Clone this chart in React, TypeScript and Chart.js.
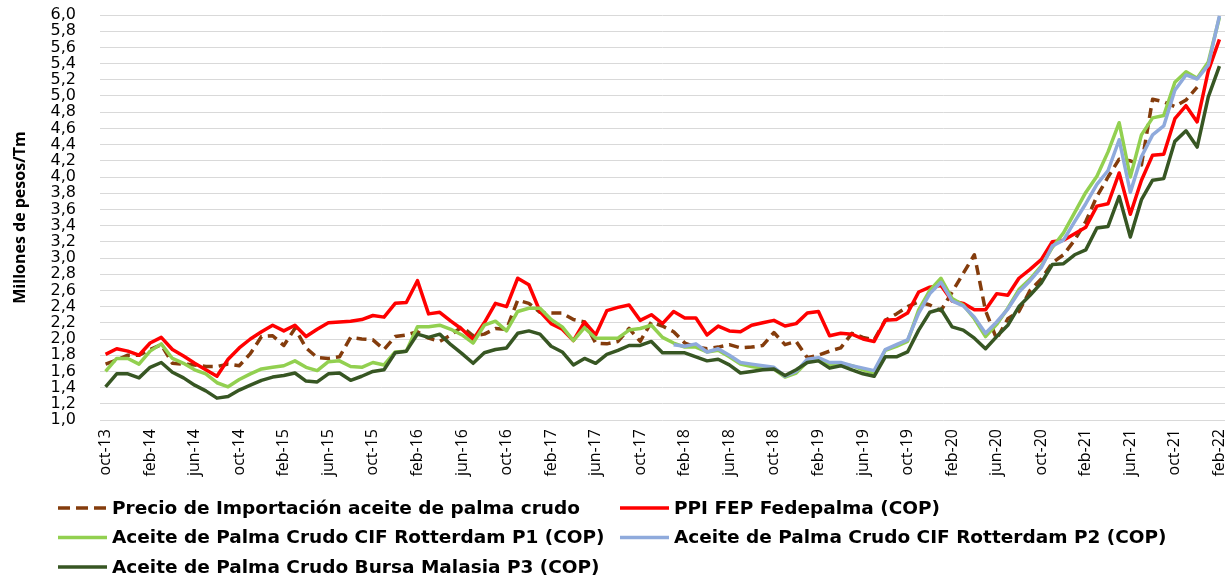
import { useEffect, useRef } from 'react';
import { Chart, registerables } from 'chart.js';

Chart.register(...registerables);

const categories = [
  'oct-13', 'nov-13', 'dic-13',
  'ene-14', 'feb-14', 'mar-14', 'abr-14', 'may-14', 'jun-14', 'jul-14', 'ago-14', 'sep-14', 'oct-14', 'nov-14', 'dic-14',
  'ene-15', 'feb-15', 'mar-15', 'abr-15', 'may-15', 'jun-15', 'jul-15', 'ago-15', 'sep-15', 'oct-15', 'nov-15', 'dic-15',
  'ene-16', 'feb-16', 'mar-16', 'abr-16', 'may-16', 'jun-16', 'jul-16', 'ago-16', 'sep-16', 'oct-16', 'nov-16', 'dic-16',
  'ene-17', 'feb-17', 'mar-17', 'abr-17', 'may-17', 'jun-17', 'jul-17', 'ago-17', 'sep-17', 'oct-17', 'nov-17', 'dic-17',
  'ene-18', 'feb-18', 'mar-18', 'abr-18', 'may-18', 'jun-18', 'jul-18', 'ago-18', 'sep-18', 'oct-18', 'nov-18', 'dic-18',
  'ene-19', 'feb-19', 'mar-19', 'abr-19', 'may-19', 'jun-19', 'jul-19', 'ago-19', 'sep-19', 'oct-19', 'nov-19', 'dic-19',
  'ene-20', 'feb-20', 'mar-20', 'abr-20', 'may-20', 'jun-20', 'jul-20', 'ago-20', 'sep-20', 'oct-20', 'nov-20', 'dic-20',
  'ene-21', 'feb-21', 'mar-21', 'abr-21', 'may-21', 'jun-21', 'jul-21', 'ago-21', 'sep-21', 'oct-21', 'nov-21', 'dic-21',
  'ene-22', 'feb-22',
];

const precioImportacion = [
  1.69, 1.74, 1.80, 1.80, 1.87, 1.93, 1.70, 1.69, 1.68, 1.66, 1.66,
  1.69, 1.67, 1.82, 2.03, 2.04, 1.92, 2.13, 1.89, 1.77, 1.76,
  1.78, 2.02, 2.00, 1.99, 1.87, 2.03, 2.05, 2.09, 2.01, 1.97,
  2.05, 2.15, 2.04, 2.06, 2.13, 2.12, 2.48, 2.44, 2.33, 2.32,
  2.32, 2.24, 2.21, 1.95, 1.94, 1.97, 2.13, 1.97, 2.21, 2.16,
  2.09, 1.95, 1.90, 1.88, 1.90, 1.93, 1.89, 1.90, 1.92, 2.08,
  1.93, 1.97, 1.77, 1.80, 1.85, 1.89, 2.07, 2.02, 1.99, 2.23,
  2.31, 2.40, 2.46, 2.42, 2.35, 2.58, 2.81, 3.04, 2.35, 2.00,
  2.25, 2.34, 2.60, 2.74, 2.94, 3.04, 3.22, 3.45, 3.76, 4.00,
  4.22, 4.20, 4.15, 4.96, 4.93, 4.87, 4.95, 5.11, null, null,
];

const ppiFedepalma = [
  1.81, 1.88, 1.85, 1.80, 1.95, 2.02, 1.87, 1.79, 1.70, 1.62, 1.54,
  1.75, 1.89, 2.00, 2.09, 2.17, 2.10, 2.17, 2.03, 2.12, 2.20,
  2.21, 2.22, 2.24, 2.29, 2.27, 2.44, 2.45, 2.72, 2.31, 2.33,
  2.22, 2.12, 1.99, 2.20, 2.44, 2.40, 2.75, 2.67, 2.34, 2.19,
  2.12, 1.98, 2.21, 2.05, 2.35, 2.39, 2.42, 2.23, 2.30, 2.19,
  2.34, 2.26, 2.26, 2.05, 2.16, 2.10, 2.09, 2.17, 2.20, 2.23,
  2.16, 2.19, 2.32, 2.34, 2.04, 2.07, 2.06, 2.00, 1.97, 2.23,
  2.24, 2.32, 2.58, 2.64, 2.66, 2.47, 2.44, 2.36, 2.36, 2.56,
  2.54, 2.75, 2.86, 2.98, 3.20, 3.22, 3.30, 3.38, 3.64, 3.67,
  4.05, 3.54, 3.96, 4.27, 4.28, 4.72, 4.88, 4.68, 5.31, 5.70,
];

const rotterdamP1 = [
  1.60, 1.76, 1.76, 1.69, 1.85, 1.94, 1.76, 1.70, 1.62, 1.57, 1.46,
  1.41, 1.50, 1.57, 1.63, 1.65, 1.67, 1.73, 1.65, 1.61, 1.72,
  1.73, 1.66, 1.65, 1.71, 1.68, 1.84, 1.85, 2.15, 2.15, 2.17,
  2.12, 2.05, 1.95, 2.17, 2.22, 2.10, 2.34, 2.38, 2.38, 2.24,
  2.15, 1.98, 2.14, 2.01, 2.01, 2.01, 2.11, 2.13, 2.17, 2.02,
  1.95, 1.90, 1.90, 1.84, 1.86, 1.78, 1.69, 1.66, 1.64, 1.63,
  1.53, 1.58, 1.72, 1.76, 1.68, 1.69, 1.67, 1.62, 1.58, 1.86,
  1.91, 1.97, 2.36, 2.60, 2.75, 2.50, 2.42, 2.25, 2.03, 2.18,
  2.38, 2.61, 2.74, 2.90, 3.13, 3.31, 3.56, 3.81, 4.01, 4.31,
  4.67, 4.00, 4.52, 4.73, 4.76, 5.17, 5.30, 5.22, 5.42, 5.97,
];

const rotterdamP2 = [
  null, null, null, null, null, null, null, null, null, null, null,
  null, null, null, null, null, null, null, null, null, null,
  null, null, null, null, null, null, null, null, null, null,
  null, null, null, null, null, null, null, null, null, null,
  null, null, null, null, null, null, null, null, null, null,
  1.93, 1.91, 1.94, 1.84, 1.88, 1.80, 1.71, 1.69, 1.67, 1.65,
  1.54, 1.60, 1.75, 1.77, 1.71, 1.71, 1.67, 1.64, 1.61, 1.87,
  1.93, 1.99, 2.32, 2.56, 2.70, 2.47, 2.41, 2.27, 2.07, 2.21,
  2.37, 2.58, 2.72, 2.88, 3.15, 3.22, 3.45, 3.67, 3.91, 4.08,
  4.46, 3.81, 4.25, 4.52, 4.63, 5.07, 5.26, 5.21, 5.38, 5.99,
];

const bursaMalasiaP3 = [
  1.41, 1.57, 1.57, 1.52, 1.65, 1.71, 1.59, 1.52, 1.43, 1.36, 1.27,
  1.29, 1.37, 1.43, 1.49, 1.53, 1.55, 1.58, 1.48, 1.47, 1.57,
  1.58, 1.49, 1.54, 1.60, 1.62, 1.83, 1.85, 2.06, 2.02, 2.06,
  1.93, 1.82, 1.70, 1.83, 1.87, 1.89, 2.07, 2.10, 2.06, 1.91,
  1.84, 1.68, 1.76, 1.70, 1.81, 1.86, 1.92, 1.92, 1.97, 1.83,
  1.83, 1.83, 1.78, 1.73, 1.75, 1.68, 1.58, 1.60, 1.62, 1.63,
  1.55, 1.62, 1.71, 1.73, 1.64, 1.67, 1.62, 1.57, 1.54, 1.78,
  1.78, 1.84, 2.11, 2.33, 2.37, 2.15, 2.11, 2.01, 1.88, 2.03,
  2.17, 2.40, 2.54, 2.69, 2.92, 2.93, 3.04, 3.10, 3.37, 3.39,
  3.76, 3.26, 3.72, 3.96, 3.98, 4.44, 4.57, 4.37, 4.99, 5.37,
];

const seriesNames = [
  'Precio de Importación aceite de palma crudo',
  'PPI FEP Fedepalma (COP)',
  'Aceite de Palma Crudo CIF Rotterdam P1 (COP)',
  'Aceite de Palma Crudo CIF Rotterdam P2 (COP)',
  'Aceite de Palma Crudo Bursa Malasia P3 (COP)',
];

const yAxisTitle = 'Millones de pesos/Tm';

// Legend drawn as a two-column grid like the original (Excel) legend.
const gridLegend = {
  id: 'gridLegend',
  afterDraw(chart: any) {
    const ctx = chart.ctx as CanvasRenderingContext2D;
    const colX = [58, 620];
    const rowY = [508, 537.5, 567];
    const markerLen = 49;
    ctx.save();
    ctx.font = 'bold 18.5px "DejaVu Sans"';
    ctx.textBaseline = 'middle';
    ctx.textAlign = 'left';
    chart.data.datasets.forEach((ds: any, i: number) => {
      const x = colX[i % 2];
      const y = rowY[Math.floor(i / 2)];
      ctx.beginPath();
      ctx.setLineDash(ds.legendDash || []);
      ctx.lineCap = 'butt';
      ctx.strokeStyle = ds.borderColor;
      ctx.lineWidth = 3.5;
      ctx.moveTo(x, y);
      ctx.lineTo(x + markerLen, y);
      ctx.stroke();
      ctx.setLineDash([]);
      ctx.fillStyle = '#000';
      ctx.fillText(ds.label, x + markerLen + 5, y + 1);
    });
    ctx.restore();
  },
};

export default function App() {
  const canvasRef = useRef<HTMLCanvasElement | null>(null);

  useEffect(() => {
    if (!canvasRef.current) return;
    const common = {
      fill: false,
      pointRadius: 0,
      borderWidth: 3.5,
      tension: 0,
      borderJoinStyle: 'round' as const,
      spanGaps: false,
    };
    const chart = new Chart(canvasRef.current, {
      type: 'line',
      data: {
        labels: categories,
        datasets: [
          { ...common, label: seriesNames[0], data: precioImportacion, borderColor: '#843C0C', backgroundColor: '#843C0C', borderDash: [10, 6], legendDash: [12, 6], order: 5 } as any,
          { ...common, label: seriesNames[1], data: ppiFedepalma, borderColor: '#FF0000', backgroundColor: '#FF0000', order: 4 },
          { ...common, label: seriesNames[2], data: rotterdamP1, borderColor: '#92D050', backgroundColor: '#92D050', order: 3 },
          { ...common, label: seriesNames[3], data: rotterdamP2, borderColor: '#8FAADC', backgroundColor: '#8FAADC', order: 2 },
          { ...common, label: seriesNames[4], data: bursaMalasiaP3, borderColor: '#375623', backgroundColor: '#375623', order: 1 },
        ],
      },
      options: {
        animation: false,
        responsive: true,
        maintainAspectRatio: false,
        layout: { padding: { top: 15, right: 2, bottom: 102, left: 0 } },
        plugins: {
          legend: { display: false },
          tooltip: { enabled: false },
        },
        scales: {
          x: {
            offset: true,
            grid: { display: false, drawTicks: false },
            border: { display: false },
            ticks: {
              autoSkip: false,
              maxRotation: 90,
              minRotation: 90,
              padding: 9,
              color: '#000',
              font: { family: '"Open Sans"', size: 16 },
              callback: (_v: any, i: number) => (i % 4 === 0 ? categories[i] : ''),
            },
            afterFit: (s: any) => {
              s.height = 60;
              s.paddingRight = 0;
              s.paddingLeft = 0;
            },
          },
          y: {
            min: 1,
            max: 6,
            grid: { color: '#D9D9D9', lineWidth: 1, drawTicks: false },
            border: { display: false },
            ticks: {
              stepSize: 0.2,
              autoSkip: false,
              padding: 24,
              color: '#000',
              font: { family: '"DejaVu Sans"', size: 16 },
              callback: (v: any) => Number(v).toFixed(1).replace('.', ','),
            },
            title: {
              display: true,
              text: yAxisTitle,
              color: '#000',
              font: { family: '"Open Sans"', size: 16, weight: 'bold' },
              padding: { top: 11, bottom: 0 },
            },
            afterFit: (s: any) => {
              s.width = 100;
              s.paddingTop = 0;
              s.paddingBottom = 0;
            },
          },
        },
      },
      plugins: [gridLegend],
    });
    return () => chart.destroy();
  }, []);

  return (
    <div style={{ position: 'fixed', left: 0, top: 0, width: '1227px', height: '582px', background: '#fff' }}>
      <canvas ref={canvasRef} />
    </div>
  );
}
